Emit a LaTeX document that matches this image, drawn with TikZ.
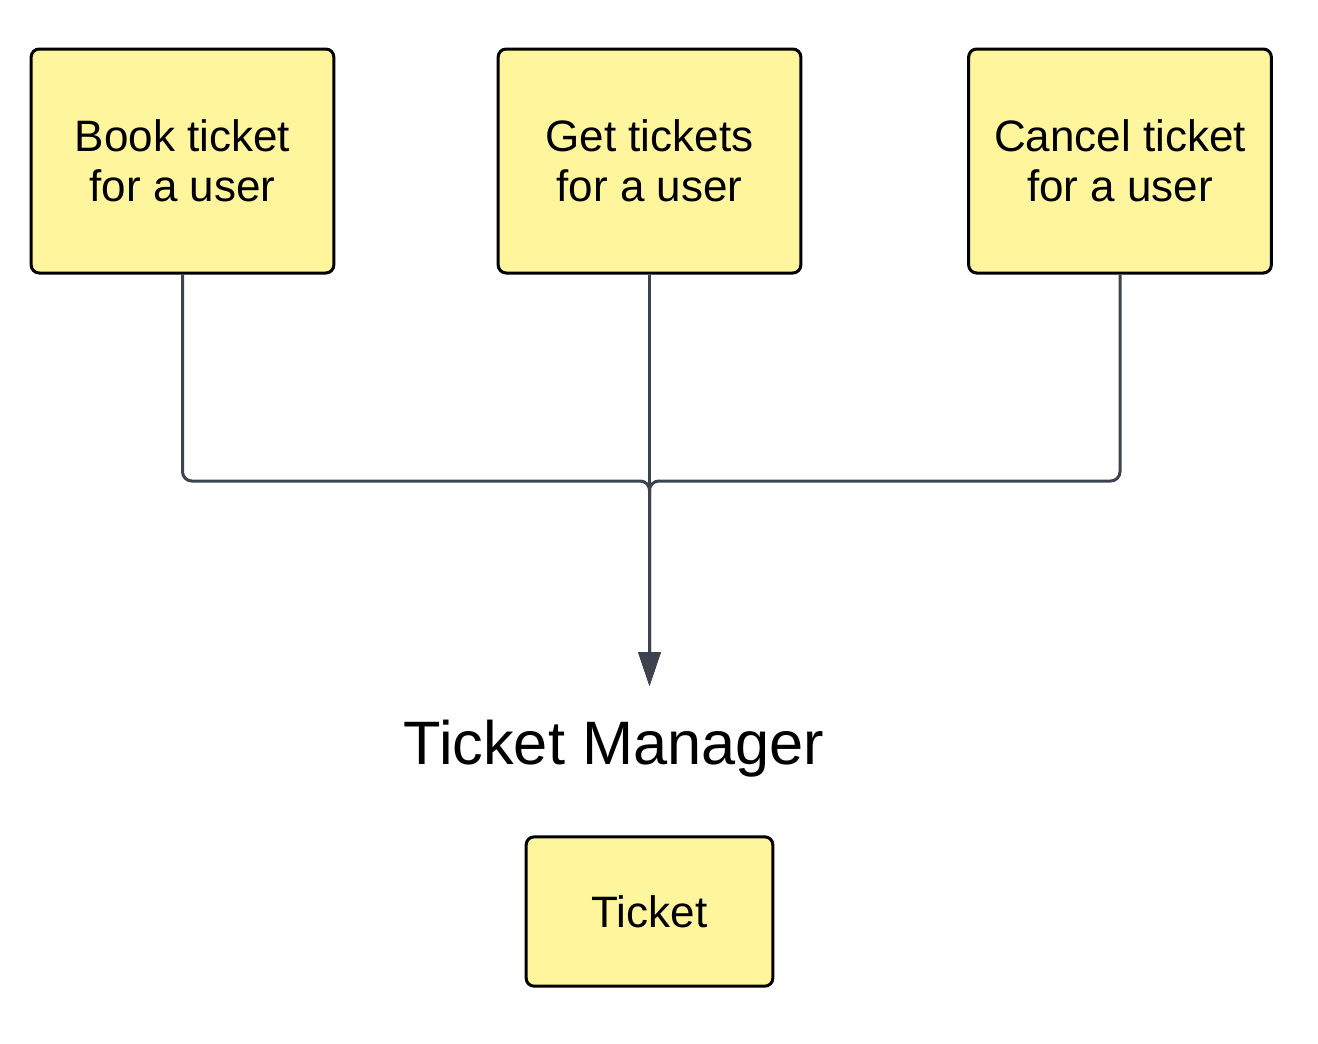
\documentclass[tikz,border=0pt]{standalone}
\usepackage{fontspec}
\setmainfont{Liberation Sans}
\usetikzlibrary{arrows.meta}

\definecolor{noteyellow}{HTML}{FFF59D}
\definecolor{linkgrey}{HTML}{3D434E}

\tikzset{every picture/.style={line width=0.75pt}}
\tikzset{
  usecase/.style={draw=black, fill=noteyellow, line width=2.25pt, rounded corners=6pt,
    minimum width=227pt, minimum height=168pt, align=center,
    font=\fontsize{33}{37.5}\selectfont},
  link/.style={draw=linkgrey, line width=2.25pt, rounded corners=7pt,
    -{Triangle[length=25.5pt,width=16.5pt]}}
}

\begin{document}
\begin{tikzpicture}[x=0.75pt,y=0.75pt,yscale=-1,xscale=1]
    \useasboundingbox (0,0) rectangle (1318,1043);

    % Use cases
    \node [usecase] (book) at (182.5,161) {Book ticket\\for a user};
    \node [usecase] (get) at (649.5,161) {Get tickets\\for a user};
    \node [usecase] (cancel) at (1120,161) {Cancel ticket\\for a user};

    % Merge point and arrow end
    \coordinate (merge) at (649.5,481);
    \coordinate (tip) at (649.5,686);

    % Connectors
    \draw [link] (book.south) |- (merge) -- (tip);
    \draw [link] (cancel.south) |- (merge) -- (tip);
    \draw [link] (get.south) -- (tip);

    % Text Node
    \node [inner sep=0pt, font=\fontsize{46}{52}\selectfont] (manager) at (614,749) {Ticket Manager};

    % Ticket class
    \node [usecase, minimum width=185pt, minimum height=112pt] (ticket) at (649.5,911.5) {Ticket};

\end{tikzpicture}
\end{document}
